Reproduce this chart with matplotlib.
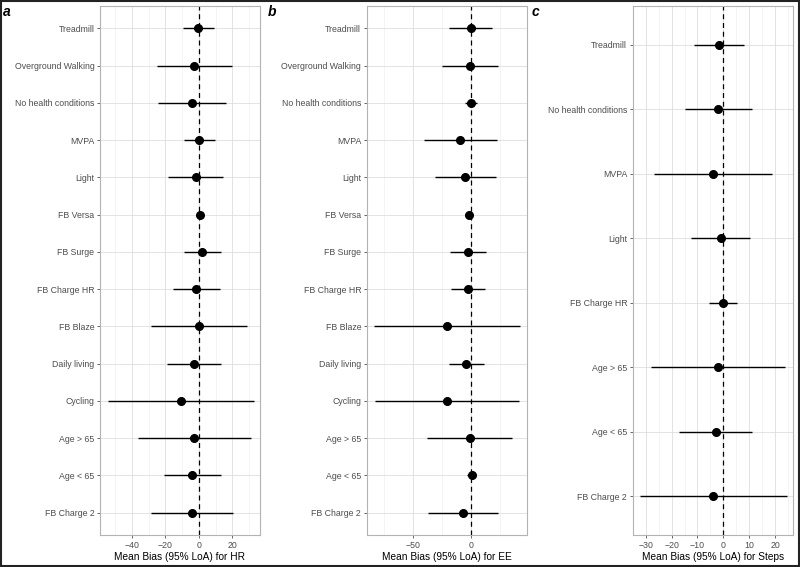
import matplotlib.pyplot as plt
from matplotlib.ticker import FixedLocator
from matplotlib.patches import Rectangle

plt.rcParams['font.family'] = ['Liberation Sans', 'DejaVu Sans']

# panel a - heart rate
hr_labels = ['Treadmill', 'Overground Walking', 'No health conditions', 'MVPA', 'Light',
             'FB Versa', 'FB Surge', 'FB Charge HR', 'FB Blaze', 'Daily living',
             'Cycling', 'Age > 65', 'Age < 65', 'FB Charge 2']
hr_bias = [-0.4, -3.0, -4.4, 0.2, -2.0, 0.8, 2.0, -1.6, 0.2, -3.0, -10.7, -2.8, -4.0, -4.0]
hr_lo = [-9.7, -25.0, -24.5, -8.8, -18.7, 0.0, -8.8, -15.5, -28.3, -19.0, -54.5, -36.6, -20.9, -28.5]
hr_hi = [9.2, 19.5, 16.0, 9.4, 14.5, 1.6, 13.0, 12.5, 28.7, 13.0, 33.0, 30.9, 12.9, 20.5]

# panel b - energy expenditure
ee_labels = hr_labels
ee_bias = [-0.3, -1.1, 0.3, -9.2, -4.9, -1.7, -2.3, -2.6, -20.8, -4.0, -21.0, -0.9, 0.6, -6.9]
ee_lo = [-19.3, -25.1, -5.2, -40.7, -30.9, -2.6, -17.9, -17.3, -84.0, -19.3, -83.5, -37.9, -3.8, -37.0]
ee_hi = [18.2, 23.1, 4.9, 22.3, 21.9, -0.8, 13.3, 12.4, 42.7, 11.5, 41.6, 35.8, 4.6, 23.4]

# panel c - steps
st_labels = ['Treadmill', 'No health conditions', 'MVPA', 'Light', 'FB Charge HR',
             'Age > 65', 'Age < 65', 'FB Charge 2']
st_bias = [-1.7, -1.9, -4.1, -1.0, -0.2, -2.0, -2.9, -4.0]
st_lo = [-11.2, -14.7, -26.8, -12.4, -5.6, -27.9, -17.1, -32.0]
st_hi = [7.9, 11.0, 18.7, 10.4, 5.3, 23.9, 11.1, 24.5]

fig = plt.figure(figsize=(8, 5.67), dpi=100)
fig.patches.append(Rectangle((0.001, 0.001), 0.998, 0.997, transform=fig.transFigure,
                             fill=False, edgecolor='#222222', lw=1.5))

panels = [
    ('a', hr_labels, hr_bias, hr_lo, hr_hi, 'Mean Bias (95% LoA) for HR',
     [0.125, 0.325], (-59, 36.4), [-40, -20, 0, 20], [-50, -30, -10, 10, 30]),
    ('b', ee_labels, ee_bias, ee_lo, ee_hi, 'Mean Bias (95% LoA) for EE',
     [0.4584, 0.6584], (-90.4, 48.3), [-50, 0], [-75, -25, 25]),
    ('c', st_labels, st_bias, st_lo, st_hi, 'Mean Bias (95% LoA) for Steps',
     [0.7909, 0.9916], (-35, 27), [-30, -20, -10, 0, 10, 20], [-25, -15, -5, 5, 15, 25]),
]

bottom, top = 0.0564, 0.9894
for tag, labels, bias, lo, hi, xlab, (l, r), xlim, major, minor in panels:
    ax = fig.add_axes([l, bottom, r - l, top - bottom])
    n = len(labels)
    ys = list(range(n))
    ax.set_xlim(*xlim)
    ax.set_ylim(n - 1 + 0.6, -0.6)
    ax.xaxis.set_major_locator(FixedLocator(major))
    ax.xaxis.set_minor_locator(FixedLocator(minor))
    ax.set_yticks(ys)
    ax.set_yticklabels(labels)
    ax.grid(True, which='major', color='#DEDEDE', lw=0.6, zorder=0)
    ax.grid(True, which='minor', axis='x', color='#EDEDED', lw=0.4, zorder=0)
    ax.set_axisbelow(True)
    ax.hlines(ys, lo, hi, color='black', lw=1.0, zorder=2)
    ax.plot(bias, ys, 'o', color='black', ms=5.5, zorder=3)
    ax.axvline(0, color='black', ls=(0, (4, 3)), lw=0.9, zorder=2)
    for s in ax.spines.values():
        s.set_color('#B3B3B3')
        s.set_linewidth(0.8)
    ax.tick_params(axis='both', which='major', labelsize=6.3, labelcolor='#4D4D4D',
                   color='#4D4D4D', length=2.5, width=0.6, pad=1.5)
    ax.tick_params(axis='x', which='minor', length=0)
    ax.set_xlabel(xlab, fontsize=7.3, labelpad=1.5)
    fig.text(l - 0.121 if tag == 'a' else l - 0.124 if tag == 'b' else l - 0.126, 0.978,
             tag, fontsize=10, fontweight='bold', fontstyle='italic', va='center', ha='left')

fig.savefig('out.png', dpi=100)
